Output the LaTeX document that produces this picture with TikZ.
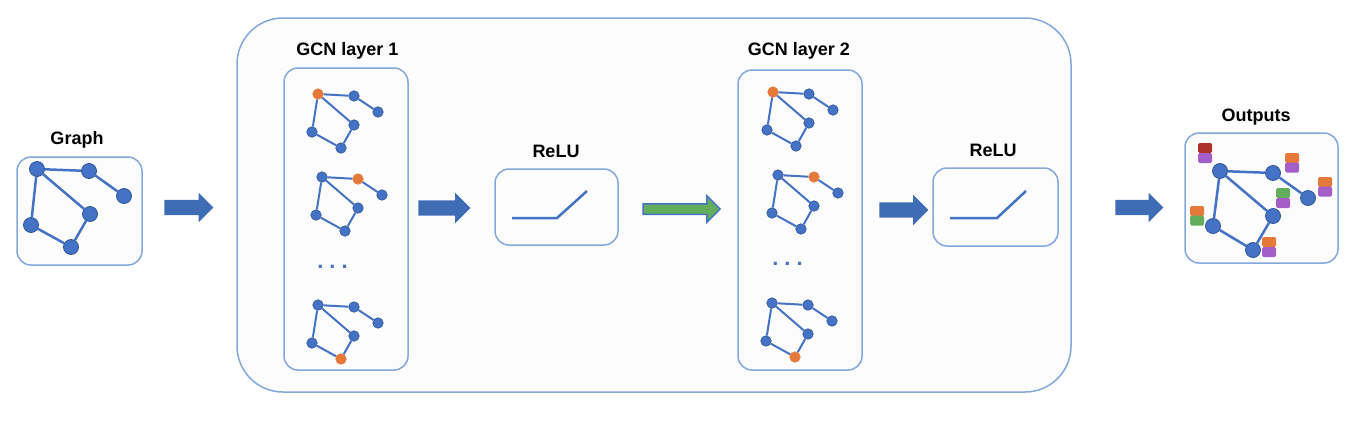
\documentclass[tikz,border=0pt]{standalone}
\usepackage{fontspec}
\setmainfont{Liberation Sans}
\usepackage{xcolor}
\usepackage{tikz}
\usetikzlibrary{shapes}
\usetikzlibrary{shapes.arrows}
\definecolor{nodeblue}{HTML}{4472C4}
\definecolor{nodeedge}{HTML}{2F5597}
\definecolor{boxline}{HTML}{82A8DC}
\definecolor{arrowblue}{HTML}{3E6DB6}
\definecolor{hotorange}{HTML}{E5793A}
\definecolor{tagred}{HTML}{B0302A}
\definecolor{taggreen}{HTML}{62AE5A}
\definecolor{tagpurple}{HTML}{A45EC7}
\tikzset{panel/.style={draw=boxline, line width=1.5pt, fill=black!1, rounded corners=14pt, inner sep=0pt},
 title/.style={font=\bfseries\fontsize{18}{20}\selectfont},
 bigdot/.style={circle, fill=nodeblue, draw=nodeedge, line width=0.8pt, inner sep=0pt, minimum size=15pt},
 sdot/.style={circle, fill=nodeblue, draw=nodeedge, line width=0.6pt, inner sep=0pt, minimum size=10.5pt},
 hotdot/.style={fill=hotorange, draw=hotorange},
 dot a/.style={}, dot b/.style={}, dot f/.style={},
 bedge/.style={draw=nodeblue, line width=2.5pt},
 sedge/.style={draw=nodeblue, line width=2pt},
 relu/.style={draw=nodeblue, line width=2.5pt},
 fatarrow/.style={single arrow, fill=arrowblue, inner xsep=0pt, inner ysep=7.5pt, single arrow head extend=7pt},
 tag/.style={rounded corners=1.5pt, inner sep=0pt, minimum width=14pt, minimum height=10pt},
 gdots/.style={text=nodeblue, font=\bfseries\fontsize{22}{24}\selectfont, anchor=base},
 minigraph/.pic={
  \node[sdot, dot a] (-a) at (0,0) {};
  \node[sdot, dot b] (-b) at (36,2) {};
  \node[sdot] (-c) at (60,18) {};
  \node[sdot] (-d) at (36,31) {};
  \node[sdot] (-e) at (-6,38) {};
  \node[sdot, dot f] (-f) at (23,54) {};
  \draw[sedge] (-a) -- (-b) -- (-c) (-a) -- (-d) -- (-f) -- (-e) -- (-a);
 },
 }

\begin{document}
\begin{tikzpicture}[x=1pt, y=-1pt]
    \useasboundingbox (0,0) rectangle (1350,424);
    \node[panel, rounded corners=46pt, minimum width=834pt, minimum height=374pt] (model) at (654,205) {};

    \node[panel, minimum width=125pt, minimum height=108pt] (graph) at (79.5,211) {};
    \node[title] (graphtitle) at (77,140) {Graph};
    \node[bigdot] (g-a) at (37,169) {};
    \node[bigdot] (g-b) at (89,171) {};
    \node[bigdot] (g-c) at (124,196) {};
    \node[bigdot] (g-d) at (90,214) {};
    \node[bigdot] (g-e) at (31,225) {};
    \node[bigdot] (g-f) at (71,247) {};
    \draw[bedge] (g-a) -- (g-b) -- (g-c) (g-a) -- (g-d) -- (g-f) -- (g-e) -- (g-a);

    \node[fatarrow, minimum height=49pt] (arrow1) at (185,207.5) {};

    \node[panel, minimum width=124pt, minimum height=302pt] (layer1) at (346,219) {};
    \node[title] (layer1title) at (347.5,51) {GCN layer 1};
    \pic[dot a/.style=hotdot] (l1g1) at (318,94) {minigraph};
    \pic[dot b/.style=hotdot] (l1g2) at (322,177) {minigraph};
    \node[gdots] (l1dots) at (332.5,268) {.\hspace{6pt}.\hspace{6pt}.};
    \pic[dot f/.style=hotdot] (l1g3) at (318,305) {minigraph};

    \node[fatarrow, minimum height=52pt, single arrow head extend=7.5pt] (arrow2) at (440.5,208) {};

    \node[panel, minimum width=123pt, minimum height=76pt] (relu1) at (556.5,207) {};
    \node[title] (relu1title) at (556,151) {ReLU};
    \draw[relu] (512,218) -- (557,218) -- (587,191);

    \node[fatarrow, fill=taggreen, draw=nodeblue, line width=1.5pt, inner ysep=4.5pt, single arrow head extend=8pt, minimum height=77pt] (arrow3) at (679,209) {};

    \node[panel, minimum width=124pt, minimum height=300pt] (layer2) at (800,220) {};
    \node[title] (layer2title) at (799,51) {GCN layer 2};
    \pic[dot a/.style=hotdot] (l2g1) at (773,92) {minigraph};
    \pic[dot b/.style=hotdot] (l2g2) at (778,175) {minigraph};
    \node[gdots] (l2dots) at (787.5,265) {.\hspace{6pt}.\hspace{6pt}.};
    \pic[dot f/.style=hotdot] (l2g3) at (772,303) {minigraph};

    \node[fatarrow, minimum height=49pt, single arrow head extend=7.5pt] (arrow4) at (900,210) {};

    \node[panel, minimum width=125pt, minimum height=78pt] (relu2) at (995.5,207) {};
    \node[title] (relu2title) at (993,150) {ReLU};
    \draw[relu] (950,218) -- (997,218) -- (1026,191);

    \node[fatarrow, minimum height=48pt] (arrow5) at (1135.5,207.5) {};

    \node[panel, minimum width=153pt, minimum height=130pt] (outputs) at (1261.5,198) {};
    \node[title] (outputstitle) at (1256,117) {Outputs};
    \node[bigdot] (o-a) at (1220,171) {};
    \node[bigdot] (o-b) at (1273,173) {};
    \node[bigdot] (o-c) at (1308,198) {};
    \node[bigdot] (o-d) at (1273,216) {};
    \node[bigdot] (o-e) at (1213,226) {};
    \node[bigdot] (o-f) at (1253,250) {};
    \draw[bedge] (o-a) -- (o-b) -- (o-c) (o-a) -- (o-d) -- (o-f) -- (o-e) -- (o-a);
    \node[tag, fill=tagred] (t1a) at (1205,148) {};
    \node[tag, fill=tagpurple] (t1b) at (1205,158) {};
    \node[tag, fill=hotorange] (t2a) at (1292,158) {};
    \node[tag, fill=tagpurple] (t2b) at (1292,167.5) {};
    \node[tag, fill=hotorange] (t3a) at (1325,182) {};
    \node[tag, fill=tagpurple] (t3b) at (1325,191.5) {};
    \node[tag, fill=taggreen] (t4a) at (1283,193) {};
    \node[tag, fill=tagpurple] (t4b) at (1283,203) {};
    \node[tag, fill=hotorange] (t5a) at (1197,211) {};
    \node[tag, fill=taggreen] (t5b) at (1197,220.5) {};
    \node[tag, fill=hotorange] (t6a) at (1269,242) {};
    \node[tag, fill=tagpurple] (t6b) at (1269,252) {};
\end{tikzpicture}
\end{document}
